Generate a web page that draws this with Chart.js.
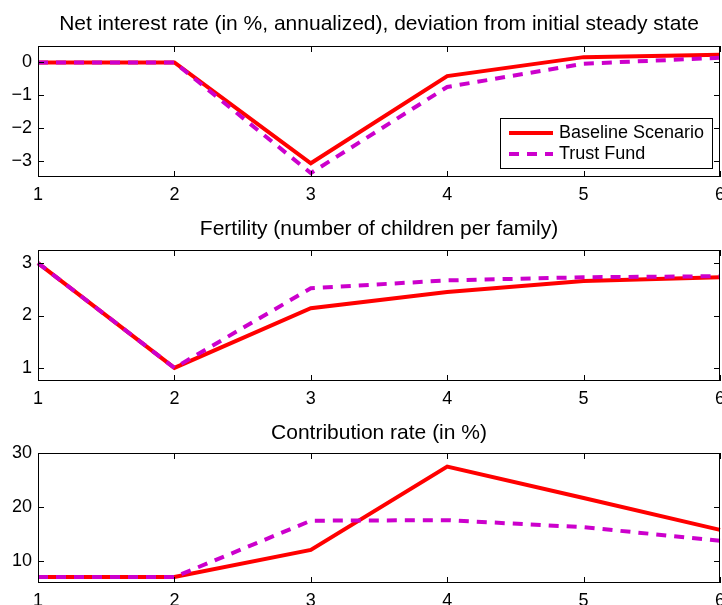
<!DOCTYPE html>
<html>
<head>
<meta charset="utf-8">
<script src="https://cdn.jsdelivr.net/npm/chart.js"></script>
<style>
  html, body { margin: 0; padding: 0; background: #fff; overflow: hidden; }
  .panel { position: absolute; left: 0; }
</style>
</head>
<body>
<canvas id="rateChart" class="panel" width="722" height="205" style="top:0px"></canvas>
<canvas id="fertChart" class="panel" width="722" height="204" style="top:205px"></canvas>
<canvas id="contribChart" class="panel" width="722" height="196" style="top:409px"></canvas>
<script>
// periods on the x axis
const periods = [1, 2, 3, 4, 5, 6];

// net interest rate, deviation from initial steady state (%)
const rateBaseline = [0, 0, -3.08, -0.42, 0.16, 0.23];
const rateTrust = [0, 0, -3.38, -0.75, -0.04, 0.14];
const rateTicks = [-3, -2, -1, 0];

// fertility (children per family)
const fertBaseline = [3.0, 1.0, 2.14, 2.45, 2.66, 2.73];
const fertTrust = [3.0, 1.0, 2.52, 2.67, 2.73, 2.75];
const fertTicks = [1, 2, 3];

// contribution rate (%)
const contribBaseline = [7.1, 7.1, 12.1, 27.5, 21.7, 15.8];
const contribTrust = [7.1, 7.1, 17.5, 17.6, 16.3, 13.8];
const contribTicks = [10, 20, 30];

const seriesNames = ['Baseline Scenario', 'Trust Fund'];

const FONT = "'Liberation Sans', Arial, sans-serif";
const RED = '#ff0000';
const MAGENTA = '#cc00cc';

// box around the plot area with inward ticks on all four sides, like MATLAB
const boxTicks = {
  id: 'boxTicks',
  afterDatasetsDraw(chart) {
    const { ctx, chartArea: a, scales: { x, y } } = chart;
    const len = 6;
    ctx.save();
    ctx.strokeStyle = '#000';
    ctx.lineWidth = 1;
    ctx.beginPath();
    x.ticks.forEach((t, i) => {
      const px = Math.round(x.getPixelForTick(i)) + 0.5;
      ctx.moveTo(px, a.bottom); ctx.lineTo(px, a.bottom - len);
      ctx.moveTo(px, a.top); ctx.lineTo(px, a.top + len);
    });
    y.ticks.forEach(t => {
      const py = Math.round(y.getPixelForValue(t.value)) + 0.5;
      ctx.moveTo(a.left, py); ctx.lineTo(a.left + len, py);
      ctx.moveTo(a.right, py); ctx.lineTo(a.right - len, py);
    });
    ctx.stroke();
    ctx.strokeRect(a.left + 0.5, a.top + 0.5, a.width - 1, a.height - 1);
    ctx.restore();
  }
};

// legend box inside the first panel
const boxLegend = {
  id: 'boxLegend',
  afterDraw(chart, args, opts) {
    if (!opts.show) return;
    const { ctx } = chart;
    const { left, top, width, height } = opts;
    ctx.save();
    ctx.fillStyle = '#fff';
    ctx.fillRect(left, top, width, height);
    ctx.strokeStyle = '#000';
    ctx.lineWidth = 1;
    ctx.strokeRect(left + 0.5, top + 0.5, width - 1, height - 1);
    ctx.font = '18px ' + FONT;
    ctx.textBaseline = 'middle';
    const rows = [top + 15, top + 36];
    // legend follows legend order, not drawing order
    const items = chart.data.datasets.slice().sort((p, q) => p.legendIndex - q.legendIndex);
    items.forEach((ds, i) => {
      ctx.strokeStyle = ds.borderColor;
      ctx.lineWidth = ds.borderWidth;
      ctx.setLineDash(ds.borderDash || []);
      ctx.beginPath();
      ctx.moveTo(left + 9, rows[i]);
      ctx.lineTo(left + 53, rows[i]);
      ctx.stroke();
      ctx.setLineDash([]);
      ctx.fillStyle = '#000';
      ctx.fillText(ds.label, left + 59, rows[i]);
    });
    ctx.restore();
  }
};

function fmt(v) {
  return String(v).replace('-', '\u2212');
}

function makePanel(id, title, base, trust, yMin, yMax, yTicks, pad, xHeight, legend) {
  return new Chart(document.getElementById(id), {
    type: 'line',
    data: {
      labels: periods,
      datasets: [
        { label: seriesNames[1], data: trust, borderColor: MAGENTA, borderWidth: 4,
          borderDash: [10, 8], pointRadius: 0, fill: false, order: 0, legendIndex: 1 },
        { label: seriesNames[0], data: base, borderColor: RED, borderWidth: 4,
          pointRadius: 0, fill: false, order: 1, legendIndex: 0 }
      ]
    },
    options: {
      responsive: false,
      animation: false,
      events: [],
      layout: { padding: { left: 0, right: 2, top: 0, bottom: 0 } },
      plugins: {
        legend: { display: false },
        tooltip: { enabled: false },
        title: {
          display: true, text: title, color: '#000', fullSize: false,
          font: { family: FONT, size: 21, weight: 'normal', lineHeight: 1.2 },
          padding: pad
        },
        boxLegend: legend || { show: false }
      },
      scales: {
        x: {
          type: 'category', offset: false,
          grid: { display: false, drawTicks: false, tickLength: 0 }, border: { display: false },
          ticks: { color: '#000', padding: 7, maxRotation: 0, autoSkip: false,
                   font: { family: FONT, size: 18 } },
          afterFit: s => { s.height = xHeight; s.paddingLeft = 0; s.paddingRight = 0; }
        },
        y: {
          type: 'linear', min: yMin, max: yMax,
          grid: { display: false, drawTicks: false, tickLength: 0 }, border: { display: false },
          afterBuildTicks: s => { s.ticks = yTicks.map(v => ({ value: v })); },
          ticks: { color: '#000', padding: 6, callback: v => fmt(v),
                   font: { family: FONT, size: 18 } },
          afterFit: s => { s.width = 38; s.paddingTop = 0; s.paddingBottom = 0; }
        }
      }
    },
    plugins: [boxTicks, boxLegend]
  });
}

makePanel('rateChart', 'Net interest rate (in %, annualized), deviation from initial steady state',
  rateBaseline, rateTrust, -3.5, 0.5, rateTicks, { top: 11.4, bottom: 9.4 }, 28,
  { show: true, left: 500, top: 118, width: 213, height: 51 });
makePanel('fertChart', 'Fertility (number of children per family)',
  fertBaseline, fertTrust, 0.75, 3.25, fertTicks, { top: 11.4, bottom: 8.4 }, 28);
makePanel('contribChart', 'Contribution rate (in %)',
  contribBaseline, contribTrust, 6, 30, contribTicks, { top: 11.4, bottom: 7.4 }, 22);
</script>
</body>
</html>
